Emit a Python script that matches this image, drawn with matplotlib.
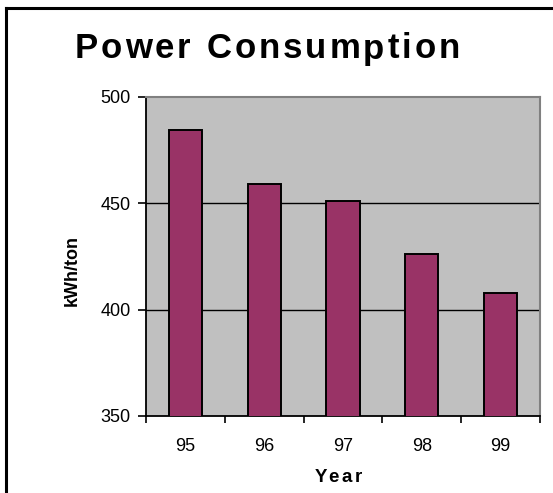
import matplotlib
matplotlib.use("Agg")
import matplotlib.pyplot as plt
from matplotlib.lines import Line2D
from matplotlib.font_manager import FontProperties
import numpy as np

years = ["95", "96", "97", "98", "99"]
values = [484.5, 459, 451, 426, 408]
y_ticks = [350, 400, 450, 500]
title = "Power Consumption"
xlabel = "Year"
ylabel = "kWh/ton"

plt.rcParams['font.family'] = ['Liberation Sans', 'DejaVu Sans']

W, H = 553, 493
fig = plt.figure(figsize=(W / 100, H / 100), dpi=100)
fig.patch.set_facecolor('white')
renderer = fig.canvas.get_renderer()


def spaced_text(s, cx, cy, size, spacing, weight='bold'):
    """Draw string s letter by letter (pixel coords, origin top-left), centered at cx, cy."""
    fp = FontProperties(family='Liberation Sans', size=size, weight=weight)

    def w(t):
        return renderer.get_text_width_height_descent(t, fp, ismath=False)[0]

    total = w(s) + (len(s) - 1) * spacing
    for i, ch in enumerate(s):
        if ch == ' ':
            continue
        off = w(s[:i + 1]) - w(ch) + i * spacing
        px, py = cx - total / 2 + off, cy
        fig.text(px / W, 1 - py / H, ch, fontproperties=fp, ha='left', va='center')


# outer chart frame (left and top edges visible)
fig.add_artist(Line2D([6 / W, 6 / W], [0, 1 - 8 / H], color='black', lw=2.2, transform=fig.transFigure))
fig.add_artist(Line2D([6 / W, 1], [1 - 8 / H, 1 - 8 / H], color='black', lw=2.2, transform=fig.transFigure))

ax = fig.add_axes([146 / W, 1 - 416 / H, (540 - 146) / W, (416 - 97) / H])
ax.set_facecolor('#C0C0C0')

x = np.arange(len(years))
ax.bar(x, values, width=0.42, color='#993366', edgecolor='black', linewidth=1.4, zorder=3)
ax.set_xlim(-0.5, len(years) - 0.5)
ax.set_ylim(350, 500)

ax.set_yticks(y_ticks)
ax.set_yticklabels([str(v) for v in y_ticks], fontsize=13)
for v in y_ticks[1:-1]:
    ax.axhline(v, color='black', lw=1.0, zorder=2)

ax.set_xticks(np.arange(-0.5, len(years), 1.0))
ax.set_xticklabels([])
ax.set_xticks(x, minor=True)
ax.set_xticklabels(years, minor=True, fontsize=13)
ax.tick_params(axis='x', which='minor', length=0, pad=16)
ax.tick_params(axis='x', which='major', length=5, width=1.2, direction='out', color='black')
ax.tick_params(axis='y', length=6, width=1.2, direction='out', pad=5)

for s in ['left', 'bottom']:
    ax.spines[s].set_color('black')
    ax.spines[s].set_linewidth(1.3)
for s in ['top', 'right']:
    ax.spines[s].set_color('#808080')
    ax.spines[s].set_linewidth(1.5)

spaced_text(title, 267, 49, 25, 3.0)
spaced_text(xlabel, 338, 477, 13.5, 2.5)
fig.text(72 / W, 1 - 270 / H, ylabel, rotation=90, ha='center', va='center',
         fontsize=13, fontweight='bold')

fig.savefig('out.png', dpi=100)
